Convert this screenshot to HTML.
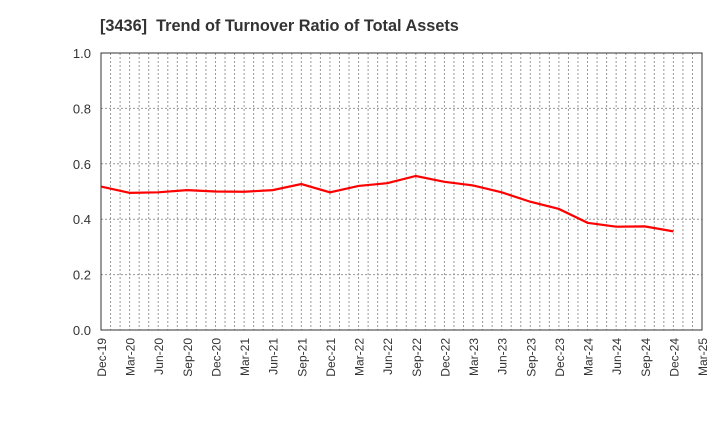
<!DOCTYPE html>
<html><head><meta charset="utf-8"><style>
body{margin:0;background:#fff;font-family:"Liberation Sans",sans-serif}
</style></head><body>
<svg id="c" width="720" height="440" xmlns="http://www.w3.org/2000/svg">
<text x="100" y="31" font-size="16.3" font-weight="bold" fill="#333">[3436]&#160;&#160;Trend of Turnover Ratio of Total Assets</text>
</svg>
<script>
const categories=["Dec-19","Mar-20","Jun-20","Sep-20","Dec-20","Mar-21","Jun-21","Sep-21","Dec-21","Mar-22","Jun-22","Sep-22","Dec-22","Mar-23","Jun-23","Sep-23","Dec-23","Mar-24","Jun-24","Sep-24","Dec-24","Mar-25"];
const values=[0.518,0.495,0.497,0.505,0.500,0.499,0.505,0.527,0.497,0.520,0.530,0.556,0.535,0.522,0.497,0.463,0.437,0.387,0.373,0.374,0.356];
const yTicks=[0,0.2,0.4,0.6,0.8,1.0];
const NS="http://www.w3.org/2000/svg";
const svg=document.getElementById('c');
const L=101,R=702,T=53,B=330;
const step=(R-L)/(categories.length-1);
const x=i=>L+i*step;
const y=v=>B-(v/1.0)*(B-T);
function mk(t,a){const e=document.createElementNS(NS,t);for(const k in a)e.setAttribute(k,a[k]);svg.appendChild(e);return e;}
for(let m=1;m<(categories.length-1)*3;m++){
 const g=mk('line',{x1:L+m*step/3,x2:L+m*step/3,y1:T,y2:B,stroke:'#999','stroke-dasharray':'2,2','stroke-width':1});
 
 
}
yTicks.forEach(v=>{
 if(v>0){const g=mk('line',{x1:L,x2:R,y1:y(v),y2:y(v),stroke:'#999','stroke-dasharray':'2,2'});
 
 }
 const t=mk('text',{x:L-10,y:y(v)+5,'text-anchor':'end','font-size':13,fill:'#333'});
 t.textContent=v.toFixed(1);
 
 
});
const fr=mk('rect',{x:L,y:T,width:R-L,height:B-T,fill:'none',stroke:'#333'});


categories.forEach((c,i)=>{
 const t=mk('text',{transform:`translate(${x(i)+5},${B+8}) rotate(-90)`,'text-anchor':'end','font-size':12,fill:'#333'});
 t.textContent=c;
 
 
});
const pl=mk('polyline',{points:values.map((v,i)=>x(i)+','+y(v)).join(' '),fill:'none',stroke:'#f00','stroke-width':2.2});


</script>
</body></html>
